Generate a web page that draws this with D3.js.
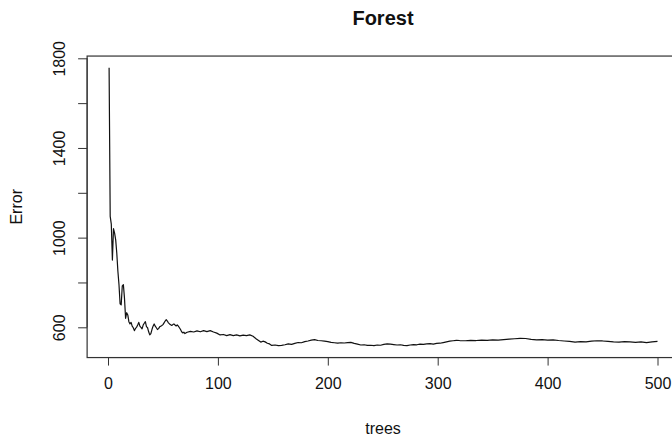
<!DOCTYPE html>
<html>
<head>
<meta charset="utf-8">
<script src="https://cdn.jsdelivr.net/npm/d3@7"></script>
<style>
  body { margin: 0; background: #fff; }
  svg text { font-family: "Liberation Sans", Arial, sans-serif; fill: #111; }
</style>
</head>
<body>
<svg width="672" height="441"></svg>
<script>
// error for the first 70 trees, one value per tree
const earlyErrors = [
  1758, 1095, 1060, 900, 1040, 1020, 990, 930, 850, 790,
  705, 700, 785, 790, 730, 640, 665, 655, 625, 615,
  622, 605, 598, 585, 595, 600, 610, 622, 605, 600,
  593, 610, 618, 625, 603, 598, 580, 566, 572, 590,
  605, 615, 605, 598, 590, 594, 602, 605, 608, 612,
  620, 628, 634, 628, 620, 615, 611, 608, 612, 615,
  610, 606, 611, 605, 598, 590, 580, 575, 578, 572
];

// later trees as [tree, error]
const lateErrors = [
  [72, 578], [75, 582], [78, 579], [81, 584], [84, 580], [87, 585], [90, 581],
  [93, 585], [96, 579], [99, 574], [102, 566], [105, 568], [108, 563], [111, 567],
  [114, 563], [117, 566], [120, 562], [123, 565], [126, 563], [129, 566], [132, 560],
  [135, 548], [137, 541], [139, 534], [141, 538], [143, 535], [145, 529], [147, 526],
  [149, 519], [152, 521], [155, 518], [158, 519], [161, 522], [164, 526], [167, 524],
  [170, 528], [173, 532], [176, 531], [179, 536], [182, 539], [185, 543], [188, 545],
  [191, 541], [194, 540], [197, 538], [200, 536], [203, 533], [206, 531], [209, 529],
  [212, 531], [215, 530], [218, 532], [221, 533], [224, 528], [227, 525], [230, 521],
  [233, 522], [236, 519], [239, 520], [242, 518], [245, 521], [248, 520], [251, 524],
  [254, 526], [257, 525], [260, 523], [263, 521], [266, 522], [269, 519], [272, 518],
  [275, 521], [278, 523], [281, 522], [284, 525], [287, 524], [290, 526], [293, 527],
  [296, 525], [299, 528], [302, 529], [305, 532], [308, 535], [311, 538], [314, 540],
  [317, 542], [320, 541], [325, 540], [330, 542], [335, 541], [340, 543], [345, 542],
  [350, 544], [355, 543], [360, 545], [365, 547], [370, 549], [375, 551], [380, 550],
  [385, 546], [390, 544], [395, 545], [400, 543], [405, 544], [410, 541], [415, 539],
  [420, 537], [425, 534], [430, 536], [435, 535], [440, 538], [445, 540], [450, 539],
  [455, 537], [460, 535], [465, 534], [470, 536], [475, 535], [480, 533], [485, 535],
  [490, 532], [495, 535], [500, 537]
];

const xTicks = [0, 100, 200, 300, 400, 500];
const yTicks = [600, 800, 1000, 1200, 1400, 1600, 1800];
const yLabels = [600, 1000, 1400, 1800];

var svg = d3.select("svg");

var points = earlyErrors.map((e, i) => [i + 1, e]).concat(lateErrors);

var x = d3.scaleLinear().domain([0, 500]).range([108, 657.5]);
var y = d3.scaleLinear().domain([600, 1800]).range([327.3, 58.3]);

// plot box (R pads the data range by 4%)
var x0 = x(-19), x1 = x(520), y0 = y(1810), y1 = y(465);
svg.append("rect")
  .attr("x", x0).attr("y", y0)
  .attr("width", x1 - x0).attr("height", y1 - y0)
  .attr("fill", "none").attr("stroke", "#333").attr("stroke-width", 1.2);

// x axis
var xAxis = d3.axisBottom(x).tickValues(xTicks).tickSize(8).tickPadding(12);
var gx = svg.append("g").attr("transform", `translate(0,${y1})`).call(xAxis);
gx.select(".domain").attr("d", `M${x(0)},0H${x(500)}`).attr("stroke", "#333");
gx.selectAll(".tick line").attr("stroke", "#333");
gx.selectAll("text").attr("font-size", 16).attr("fill", "#111")
  .attr("font-family", "Liberation Sans, Arial, sans-serif");

// y axis, labels only on every other tick like R drops them
var yAxis = d3.axisLeft(y).tickValues(yTicks).tickSize(9)
  .tickFormat(d => yLabels.includes(d) ? d : "");
var gy = svg.append("g").attr("transform", `translate(${x0},0)`).call(yAxis);
gy.select(".domain").attr("d", `M0,${y(600)}V${y(1800)}`).attr("stroke", "#333");
gy.selectAll(".tick line").attr("stroke", "#333");
gy.selectAll(".tick text")
  .attr("x", null).attr("dy", null)
  .attr("transform", "translate(-22,0) rotate(-90)")
  .attr("text-anchor", "middle")
  .attr("font-size", 16).attr("fill", "#111")
  .attr("font-family", "Liberation Sans, Arial, sans-serif");

// error curve
var line = d3.line().x(d => x(d[0])).y(d => y(d[1]));
svg.append("path")
  .datum(points)
  .attr("d", line)
  .attr("fill", "none")
  .attr("stroke", "#111")
  .attr("stroke-width", 1.2)
  .attr("stroke-linejoin", "round");

// titles
svg.append("text")
  .attr("x", (87 + 679) / 2).attr("y", 25)
  .attr("text-anchor", "middle")
  .attr("font-size", 20).attr("font-weight", "bold")
  .text("Forest");

svg.append("text")
  .attr("x", (87 + 679) / 2).attr("y", 434)
  .attr("text-anchor", "middle")
  .attr("font-size", 16)
  .text("trees");

svg.append("text")
  .attr("transform", `translate(22,${(y0 + y1) / 2}) rotate(-90)`)
  .attr("text-anchor", "middle")
  .attr("font-size", 16)
  .text("Error");
</script>
</body>
</html>
